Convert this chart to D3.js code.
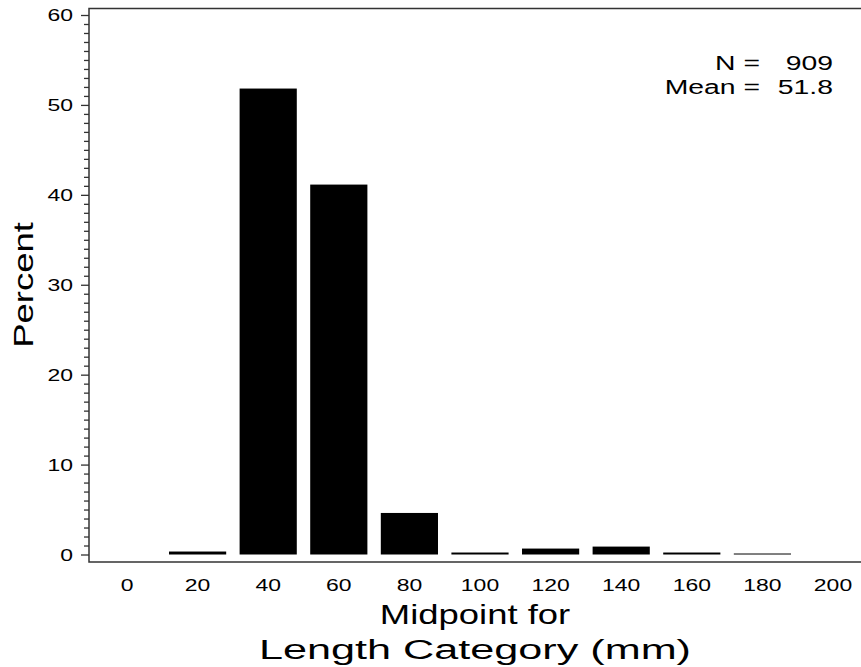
<!DOCTYPE html>
<html>
<head>
<meta charset="utf-8">
<script src="https://cdn.jsdelivr.net/npm/d3@7"></script>
<style>
  html, body { margin: 0; padding: 0; background: #fff; }
  svg { display: block; font-family: "Liberation Sans", Arial, sans-serif; }
</style>
</head>
<body>
<div id="chart"></div>
<script>
// histogram of length categories (percent of 909 fish)
var midpoints = ["0", "20", "40", "60", "80", "100", "120", "140", "160", "180", "200"];
var percents = [0, 0.33, 51.82, 41.14, 4.62, 0.22, 0.66, 0.88, 0.22, 0.11, 0];
var yTicks = [0, 10, 20, 30, 40, 50, 60];
var statLabels = ["N =", "Mean ="];
var statValues = ["909", "51.8"];

var width = 861, height = 667;
var plotLeft = 89, plotTop = 8.5, plotBottom = 562;
var stretch = 1.35; // SAS font is wide

var svg = d3.select("#chart").append("svg")
    .attr("width", width)
    .attr("height", height);

var x = d3.scaleBand()
    .domain(midpoints)
    .range([91.7, 868.3])
    .paddingInner(0.19)
    .paddingOuter(0.095);

var y = d3.scaleLinear()
    .domain([0, 60])
    .range([554.5, 15]);

// bars
svg.append("g").selectAll("rect")
    .data(midpoints.map(function(m, i) { return {m: m, v: percents[i]}; }))
  .enter().append("rect")
    .attr("x", function(d) { return x(d.m); })
    .attr("width", x.bandwidth())
    .attr("y", function(d) { return y(d.v); })
    .attr("height", function(d) { return y(0) - y(d.v); })
    .attr("fill", "#000");

// frame
svg.append("path")
    .attr("d", "M" + (width + 5) + "," + plotTop + "H" + plotLeft + "V" + plotBottom + "H" + (width + 5))
    .attr("fill", "none")
    .attr("stroke", "#333")
    .attr("stroke-width", 1.5);

// minor y ticks
var minor = d3.range(0, 61).filter(function(v) { return v % 10 !== 0; });
var gMinor = svg.append("g")
    .attr("transform", "translate(" + plotLeft + ",0)")
    .call(d3.axisLeft(y).tickValues(minor).tickSize(5).tickFormat(""));
gMinor.select(".domain").remove();
gMinor.selectAll("line").attr("stroke", "#333").attr("stroke-width", 1.3);

// major y ticks
var gy = svg.append("g")
    .attr("transform", "translate(" + plotLeft + ",0)")
    .call(d3.axisLeft(y).tickValues(yTicks).tickSize(8).tickFormat(d3.format("d")));
gy.select(".domain").remove();
gy.selectAll("line").attr("stroke", "#333").attr("stroke-width", 1.3);
gy.selectAll("text")
    .attr("x", 0)
    .attr("dy", "0.35em")
    .attr("transform", "translate(-16,0) scale(" + stretch + ",1)")
    .attr("font-size", 17)
    .attr("font-family", "Liberation Sans, Arial, sans-serif")
    .attr("fill", "#000");

// x tick labels
var gx = svg.append("g")
    .attr("transform", "translate(0," + plotBottom + ")")
    .call(d3.axisBottom(x).tickSize(0));
gx.select(".domain").remove();
gx.selectAll("text")
    .attr("y", 0)
    .attr("dy", 0)
    .attr("transform", "translate(0,29) scale(" + stretch + ",1)")
    .attr("font-size", 17)
    .attr("font-family", "Liberation Sans, Arial, sans-serif")
    .attr("fill", "#000");

// axis titles
var cx = (plotLeft + width) / 2;
svg.append("text")
    .attr("text-anchor", "middle")
    .attr("font-size", 27)
    .attr("transform", "translate(" + cx + ",624) scale(" + stretch + ",1)")
    .text("Midpoint for");
svg.append("text")
    .attr("x", cx)
    .attr("y", 659)
    .attr("text-anchor", "middle")
    .attr("font-size", 27)
    .attr("textLength", 432)
    .attr("lengthAdjust", "spacingAndGlyphs")
    .text("Length Category (mm)");
svg.append("text")
    .attr("text-anchor", "middle")
    .attr("font-size", 27)
    .attr("transform", "translate(33,285) rotate(-90) scale(" + stretch + ",1)")
    .text("Percent");

// N and mean
var stats = svg.append("g");
statLabels.forEach(function(lbl, i) {
  var by = 70 + i * 23.5;
  stats.append("text")
      .attr("text-anchor", "end")
      .attr("font-size", 21)
      .attr("transform", "translate(760," + by + ") scale(" + stretch + ",1)")
      .text(lbl);
  stats.append("text")
      .attr("text-anchor", "end")
      .attr("font-size", 21)
      .attr("transform", "translate(833," + by + ") scale(" + stretch + ",1)")
      .text(statValues[i]);
});
</script>
</body>
</html>
